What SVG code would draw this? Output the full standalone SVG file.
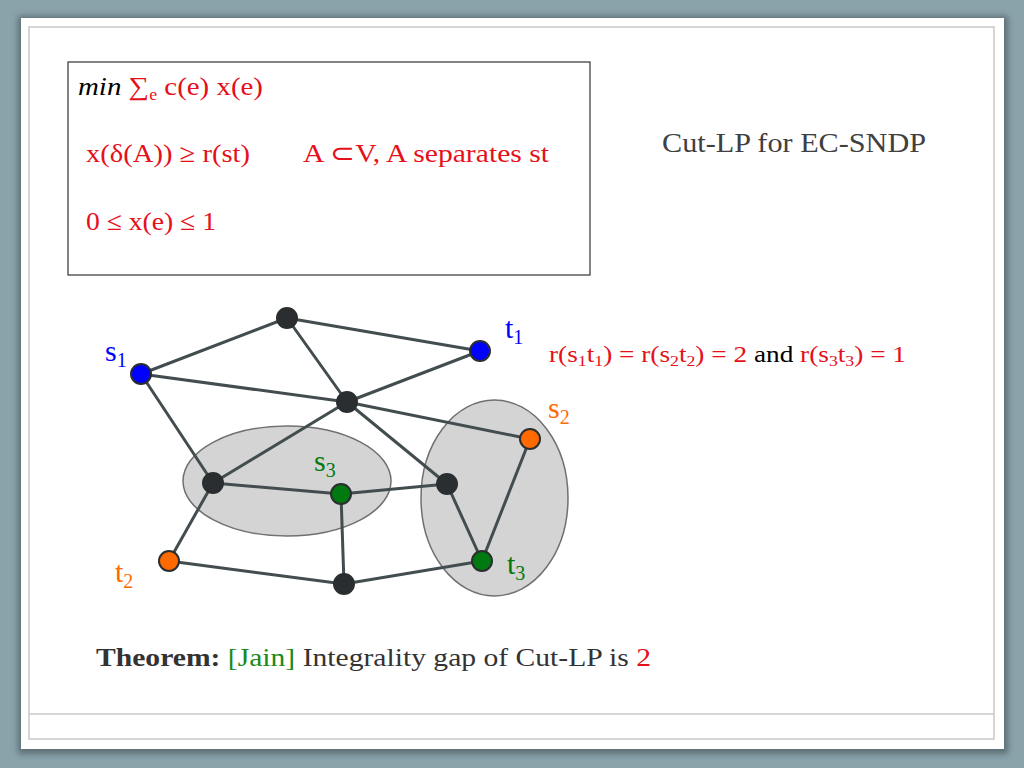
<svg xmlns="http://www.w3.org/2000/svg" width="1024" height="768" viewBox="0 0 1024 768">
<defs>
<filter id="sh" x="-5%" y="-5%" width="110%" height="110%"><feGaussianBlur stdDeviation="3"/></filter>
</defs>
<style>
text{font-family:"Liberation Serif","Times New Roman",serif}
.red{fill:#e5101a}
.edge{stroke:#434d4f;stroke-width:3;stroke-linecap:round;fill:none}
.node{stroke:#2a2e30;stroke-width:2}
.blk{fill:#2a2e30}
.blu{fill:#0000ff}
.org{fill:#ff6a00}
.grn{fill:#007a10}
.grp{fill:#d4d4d4;stroke:#707070;stroke-width:1.5}
.lb{font-size:30px}
.sub{font-size:20px}
</style>
<rect width="1024" height="768" fill="#8aa3ab"/>
<rect x="18" y="16" width="990" height="738" fill="#3e4c50" opacity="0.6" filter="url(#sh)"/>
<rect x="21" y="18" width="983" height="731" fill="#ffffff"/>
<rect x="29" y="27" width="965" height="712" fill="none" stroke="#c8c8c8" stroke-width="1.5"/>
<line x1="29" y1="714" x2="994" y2="714" stroke="#c8c8c8" stroke-width="1.5"/>

<g id="lp-box">
<rect x="68" y="62" width="522" height="213" fill="#fff" stroke="#333" stroke-width="1.2"/>
<text x="78" y="95" font-size="26" textLength="185" lengthAdjust="spacingAndGlyphs"><tspan font-style="italic" fill="#000">min</tspan><tspan class="red"> ∑</tspan><tspan class="red" font-size="16" dy="5">e</tspan><tspan class="red" dy="-5"> c(e) x(e)</tspan></text>
<text x="86" y="162" font-size="26" class="red" textLength="164" lengthAdjust="spacingAndGlyphs">x(δ(A)) ≥ r(st)</text>
<text x="303" y="162" font-size="26" class="red" textLength="246" lengthAdjust="spacingAndGlyphs">A ⊂V, A separates st</text>
<text x="86" y="230" font-size="26" class="red" textLength="130" lengthAdjust="spacingAndGlyphs">0 ≤ x(e) ≤ 1</text>
</g>

<g id="title"><text x="662" y="152" font-size="27" fill="#404040" textLength="264" lengthAdjust="spacingAndGlyphs">Cut-LP for EC-SNDP</text></g>

<g id="demands"><text x="549" y="362" font-size="23" textLength="357" lengthAdjust="spacingAndGlyphs"><tspan class="red">r(s</tspan><tspan class="red" font-size="15" dy="4">1</tspan><tspan class="red" dy="-4">t</tspan><tspan class="red" font-size="15" dy="4">1</tspan><tspan class="red" dy="-4">) = r(s</tspan><tspan class="red" font-size="15" dy="4">2</tspan><tspan class="red" dy="-4">t</tspan><tspan class="red" font-size="15" dy="4">2</tspan><tspan class="red" dy="-4">) = 2 </tspan><tspan fill="#000"> and </tspan><tspan class="red">r(s</tspan><tspan class="red" font-size="15" dy="4">3</tspan><tspan class="red" dy="-4">t</tspan><tspan class="red" font-size="15" dy="4">3</tspan><tspan class="red" dy="-4">) = 1</tspan></text></g>

<g id="groups">
<ellipse id="set-left" class="grp" cx="287" cy="481" rx="104" ry="55"/>
<ellipse id="set-right" class="grp" cx="494.5" cy="498" rx="73.5" ry="98"/>
</g>

<g id="connectors">
<line class="edge" x1="287" y1="318" x2="141" y2="374"/>
<line class="edge" x1="287" y1="318" x2="480" y2="351"/>
<line class="edge" x1="287" y1="318" x2="347" y2="402"/>
<line class="edge" x1="141" y1="374" x2="347" y2="402"/>
<line class="edge" x1="141" y1="374" x2="213" y2="483"/>
<line class="edge" x1="347" y1="402" x2="480" y2="351"/>
<line class="edge" x1="347" y1="402" x2="213" y2="483"/>
<line class="edge" x1="347" y1="402" x2="530" y2="439"/>
<line class="edge" x1="347" y1="402" x2="447" y2="484"/>
<line class="edge" x1="213" y1="483" x2="341" y2="494"/>
<line class="edge" x1="213" y1="483" x2="169" y2="561"/>
<line class="edge" x1="341" y1="494" x2="447" y2="484"/>
<line class="edge" x1="341" y1="494" x2="344" y2="584"/>
<line class="edge" x1="447" y1="484" x2="482" y2="561"/>
<line class="edge" x1="530" y1="439" x2="482" y2="561"/>
<line class="edge" x1="169" y1="561" x2="344" y2="584"/>
<line class="edge" x1="344" y1="584" x2="482" y2="561"/>
</g>

<g id="n-top"><circle class="node blk" cx="287" cy="318" r="10"/></g>
<g id="n-t1"><circle class="node blu" cx="480" cy="351" r="10"/><text class="lb" x="505" y="338" fill="#0000ff">t<tspan class="sub" dy="6">1</tspan></text></g>
<g id="n-s1"><circle class="node blu" cx="141" cy="374" r="10"/><text class="lb" x="105" y="361" fill="#0000ff">s<tspan class="sub" dy="6">1</tspan></text></g>
<g id="n-s2"><circle class="node org" cx="530" cy="439" r="10"/><text class="lb" x="548" y="418" fill="#ff6a00">s<tspan class="sub" dy="6">2</tspan></text></g>
<g id="n-center"><circle class="node blk" cx="347" cy="402" r="10"/></g>
<g id="n-leftmid"><circle class="node blk" cx="213" cy="483" r="10"/></g>
<g id="n-s3"><circle class="node grn" cx="341" cy="494" r="10"/><text class="lb" x="314" y="471" fill="#007a10">s<tspan class="sub" dy="6">3</tspan></text></g>
<g id="n-rightmid"><circle class="node blk" cx="447" cy="484" r="10"/></g>
<g id="n-t2"><circle class="node org" cx="169" cy="561" r="10"/><text class="lb" x="115" y="582" fill="#ff6a00">t<tspan class="sub" dy="6">2</tspan></text></g>
<g id="n-t3"><circle class="node grn" cx="482" cy="561" r="10"/><text class="lb" x="507" y="574" fill="#007a10">t<tspan class="sub" dy="6">3</tspan></text></g>
<g id="n-bottom"><circle class="node blk" cx="344" cy="584" r="10"/></g>

<g id="theorem"><text x="96" y="666" font-size="26" textLength="555" lengthAdjust="spacingAndGlyphs"><tspan font-weight="bold" fill="#333">Theorem:</tspan><tspan fill="#1a8a1a"> [Jain]</tspan><tspan fill="#333"> Integrality gap of Cut-LP is </tspan><tspan class="red">2</tspan></text></g>
</svg>
